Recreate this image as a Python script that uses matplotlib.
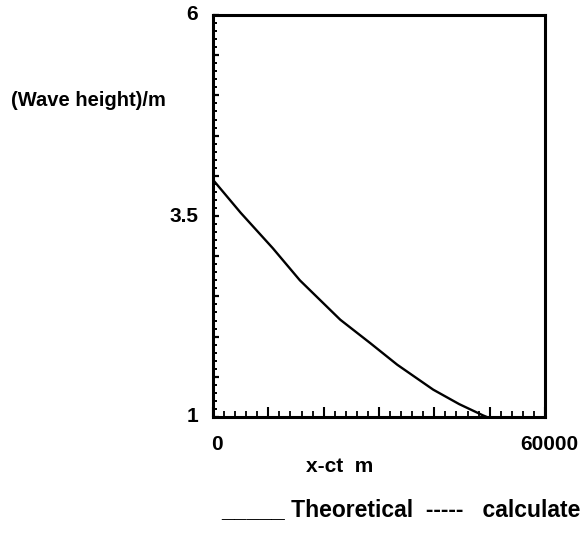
import numpy as np
import matplotlib
matplotlib.use("Agg")
import matplotlib.pyplot as plt
from matplotlib.ticker import MultipleLocator

plt.rcParams['font.family'] = ['Liberation Sans', 'DejaVu Sans']
plt.rcParams['font.weight'] = 'bold'

# Theoretical wave height along x-ct
x_ct = [0, 5000, 10800, 15700, 23000, 28400, 33300, 39800, 44500, 48800, 49500]
wave_height = [3.95, 3.54, 3.10, 2.70, 2.21, 1.92, 1.65, 1.34, 1.16, 1.02, 1.0]

y_ticklabels = [1, 3.5, 6]
x_ticklabels = [0, 60000]

W, H = 584, 535
fig = plt.figure(figsize=(W / 100, H / 100), dpi=100)
ax = fig.add_axes([213 / W, 1 - 417 / H, (545 - 213) / W, (417 - 15) / H])

ax.plot(x_ct, wave_height, color="black", lw=1.7, solid_joinstyle="round")

ax.set_xlim(0, 60000)
ax.set_ylim(1, 6)

for s in ax.spines.values():
    s.set_linewidth(2.2)

ax.xaxis.set_major_locator(MultipleLocator(10000))
ax.xaxis.set_minor_locator(MultipleLocator(2000))
ax.yaxis.set_major_locator(MultipleLocator(0.5))
ax.yaxis.set_minor_locator(MultipleLocator(0.1))
ax.tick_params(axis="x", which="major", direction="in", length=7, width=1.5, labelbottom=False)
ax.tick_params(axis="x", which="minor", direction="in", length=4, width=1.3)
ax.tick_params(axis="y", which="major", direction="in", length=4.5, width=1.6, labelleft=False)
ax.tick_params(axis="y", which="minor", direction="in", length=3, width=1.4)

# only a few values are labelled
for v in y_ticklabels:
    ax.text(-0.045, (v - 1) / 5, str(v), transform=ax.transAxes, ha="right", va="center",
            fontsize=15, fontweight="bold")
for v in x_ticklabels:
    ax.text(v / 60000 + 0.012, -0.045, str(v), transform=ax.transAxes, ha="center", va="top",
            fontsize=15, fontweight="bold")

fig.text(88 / W, 1 - 100 / H, "(Wave height)/m", ha="center", va="center", fontsize=14.5, fontweight="bold")
fig.text(340 / W, 1 - 467 / H, "x-ct  m", ha="center", va="center", fontsize=15, fontweight="bold")
fig.text(401 / W, 1 - 510 / H, "_____ Theoretical  -----   calculate", ha="center", va="center",
         fontsize=16.5, fontweight="bold")

fig.savefig("out.png", dpi=100)
